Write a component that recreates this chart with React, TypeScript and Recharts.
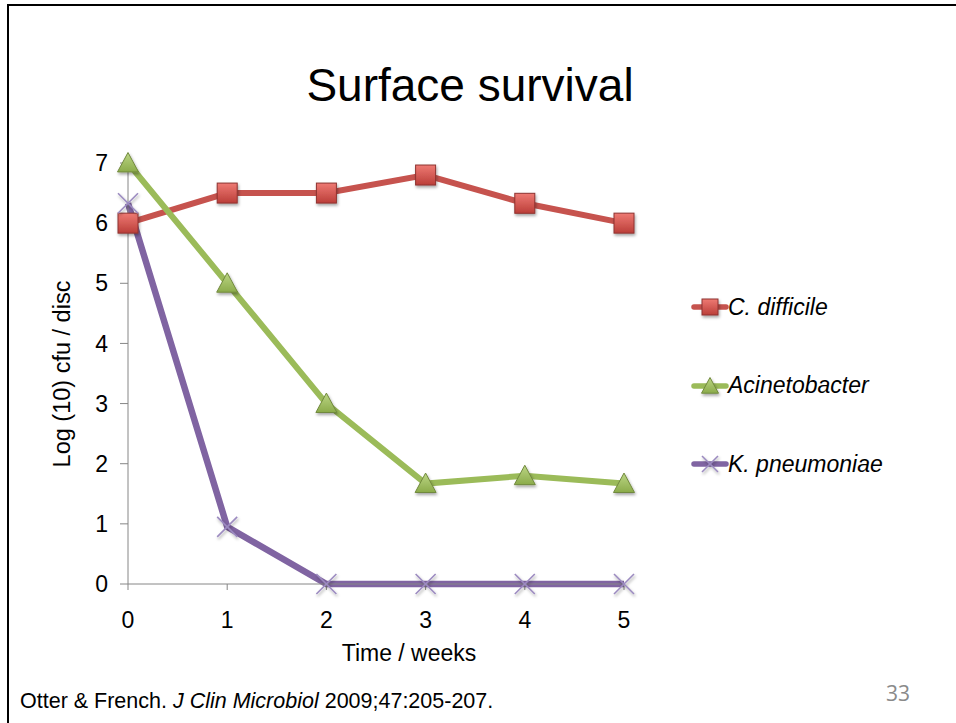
import React from "react";
import { LineChart, Line, XAxis, YAxis, Legend } from "recharts";

const weeks = [0, 1, 2, 3, 4, 5];
const cDifficile = [6.0, 6.5, 6.5, 6.8, 6.33, 6.0];
const acinetobacter = [7.0, 5.0, 3.0, 1.67, 1.8, 1.67];
const kPneumoniae = [6.33, 0.95, 0, 0, 0, 0];
const yTicks = [0, 1, 2, 3, 4, 5, 6, 7];

const seriesNames = ["C. difficile", "Acinetobacter", "K. pneumoniae"];
const colors = ["#C6534E", "#9BBB59", "#8064A2"];

const data = weeks.map((w, i) => ({
  week: w,
  cd: cDifficile[i],
  ac: acinetobacter[i],
  kp: kPneumoniae[i],
}));

const FONT = "'Liberation Sans', Arial, sans-serif";

const SquareMark = ({ cx, cy, s = 10 }: any) => (
  <rect
    x={cx - s}
    y={cy - s}
    width={s * 2}
    height={s * 2}
    fill="url(#sqGrad)"
    stroke="#8E3330"
    strokeWidth={1}
    filter="url(#shadow)"
  />
);

const TriMark = ({ cx, cy, s = 10.5 }: any) => (
  <path
    d={`M${cx},${cy - s} L${cx + s},${cy + s * 0.85} L${cx - s},${cy + s * 0.85} Z`}
    fill="url(#triGrad)"
    stroke="#71893D"
    strokeWidth={1}
    filter="url(#shadow)"
  />
);

const XMark = ({ cx, cy, s = 10 }: any) => (
  <g stroke="#9C8BC0" strokeWidth={1.6} filter="url(#shadow)">
    <line x1={cx - s} y1={cy - s} x2={cx + s} y2={cy + s} />
    <line x1={cx - s} y1={cy + s} x2={cx + s} y2={cy - s} />
  </g>
);

const markers = [SquareMark, TriMark, XMark];

const renderDot = (idx: number) => (props: any) => {
  const M = markers[idx];
  if (props.cx == null || props.cy == null) return <g key={props.key} />;
  return (
    <g key={`${idx}-${props.index}`}>
      <M cx={props.cx} cy={props.cy} />
    </g>
  );
};

const LegendContent = () => (
  <div style={{ fontFamily: FONT, fontStyle: "italic", fontSize: 23 }}>
    {seriesNames.map((name, i) => {
      const M = markers[i];
      return (
        <div
          key={name}
          style={{ height: 78.5, display: "flex", alignItems: "center" }}
        >
          <svg width={34} height={26} style={{ overflow: "visible" }}>
            <line
              x1={1}
              y1={13}
              x2={33}
              y2={13}
              stroke={colors[i]}
              strokeWidth={5.5}
              strokeLinecap="round"
            />
            <M cx={17} cy={13} s={i === 1 ? 8.5 : 8} />
          </svg>
          <span style={{ marginLeft: 1, color: "#000" }}>{name}</span>
        </div>
      );
    })}
  </div>
);

export default function App() {
  return (
    <div
      style={{
        position: "absolute",
        left: 0,
        top: 0,
        width: 956,
        height: 723,
        background: "#fff",
        overflow: "hidden",
      }}
    >
      <div style={{ position: "absolute", left: 7, top: 4, width: 949, height: 2, background: "#000" }} />
      <div style={{ position: "absolute", left: 7, top: 4, width: 2, height: 719, background: "#000" }} />
      <div style={{ position: "absolute", left: 0, top: 0 }}>
        <LineChart
          width={956}
          height={723}
          data={data}
          margin={{ top: 163, right: 332, left: 68, bottom: 79 }}
        >
          <defs>
            <linearGradient id="sqGrad" x1="0" y1="0" x2="0" y2="1">
              <stop offset="0%" stopColor="#EE7A73" />
              <stop offset="100%" stopColor="#BB3E39" />
            </linearGradient>
            <linearGradient id="triGrad" x1="0" y1="0" x2="0" y2="1">
              <stop offset="0%" stopColor="#BCD685" />
              <stop offset="100%" stopColor="#8BAB4A" />
            </linearGradient>
            <filter id="shadow" x="-50%" y="-50%" width="200%" height="200%">
              <feDropShadow dx="1" dy="2" stdDeviation="1.5" floodColor="#000" floodOpacity="0.35" />
            </filter>
          </defs>
          <XAxis
            dataKey="week"
            type="number"
            domain={[0, 5]}
            ticks={weeks}
            height={60}
            axisLine={{ stroke: "#868686", strokeWidth: 1 }}
            tickLine={{ stroke: "#868686" }}
            tickSize={6}
            tickMargin={22}
            tick={{ fill: "#000", fontSize: 23, fontFamily: FONT }}
            interval={0}
          />
          <YAxis
            domain={[0, 7]}
            ticks={yTicks}
            width={60}
            axisLine={{ stroke: "#868686", strokeWidth: 1 }}
            tickLine={{ stroke: "#868686" }}
            tickSize={8}
            tickMargin={12}
            tick={{ fill: "#000", fontSize: 23, fontFamily: FONT }}
            interval={0}
          />
          <Legend
            layout="vertical"
            align="center"
            verticalAlign="middle"
            content={<LegendContent />}
            wrapperStyle={{ position: "absolute", left: 693, top: 268, width: 240 }}
          />
          <Line
            dataKey="cd"
            name={seriesNames[0]}
            stroke={colors[0]}
            strokeWidth={6}
            isAnimationActive={false}
            dot={renderDot(0)}
            activeDot={false}
          />
          <Line
            dataKey="ac"
            name={seriesNames[1]}
            stroke={colors[1]}
            strokeWidth={6}
            isAnimationActive={false}
            dot={renderDot(1)}
            activeDot={false}
          />
          <Line
            dataKey="kp"
            name={seriesNames[2]}
            stroke={colors[2]}
            strokeWidth={6.5}
            isAnimationActive={false}
            dot={renderDot(2)}
            activeDot={false}
          />
        </LineChart>
      </div>
      <svg
        width={956}
        height={723}
        style={{ position: "absolute", left: 0, top: 0, pointerEvents: "none" }}
      >
        <text x={470} y={101} textAnchor="middle" fontFamily={FONT} fontSize={46} fill="#000">
          Surface survival
        </text>
        <text
          x={0}
          y={0}
          transform="translate(70,374) rotate(-90)"
          textAnchor="middle"
          fontFamily={FONT}
          fontSize={23.5}
          fill="#000"
        >
          Log (10) cfu / disc
        </text>
        <text x={409} y={661} textAnchor="middle" fontFamily={FONT} fontSize={23} fill="#000">
          Time / weeks
        </text>
        <text x={20} y={708} fontFamily={FONT} fontSize={21.5} fill="#000">
          Otter &amp; French. <tspan fontStyle="italic">J Clin Microbiol</tspan> 2009;47:205-207.
        </text>
        <text x={910} y={701} textAnchor="end" fontFamily="'Open Sans', sans-serif" fontSize={21} fill="#8A8A8A">
          33
        </text>
      </svg>
    </div>
  );
}
